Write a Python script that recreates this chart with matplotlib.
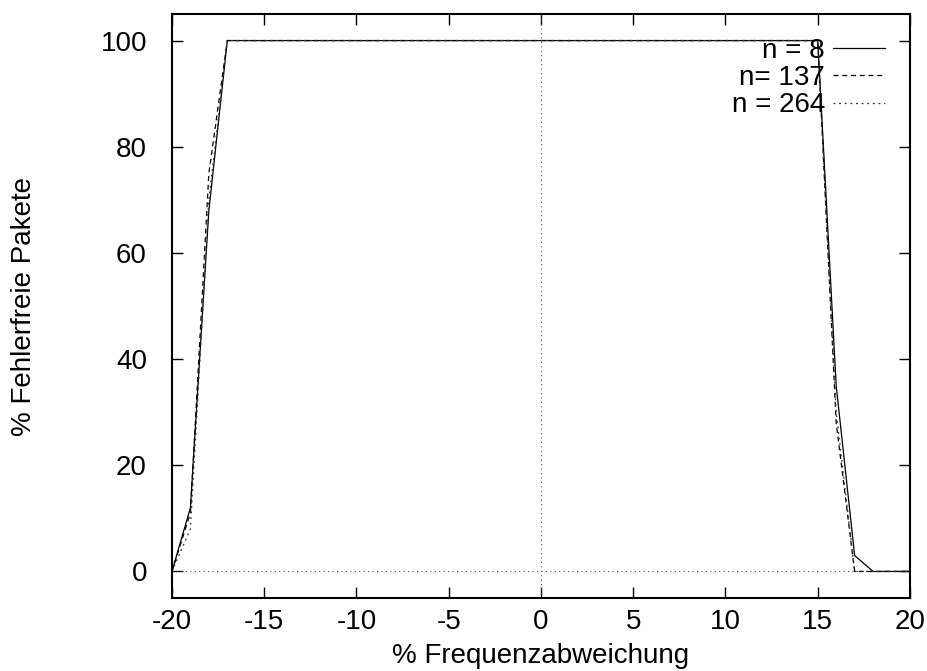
import matplotlib
matplotlib.use("Agg")
import matplotlib.pyplot as plt
import numpy as np

plt.rcParams['font.family'] = ['Liberation Sans', 'DejaVu Sans']
plt.rcParams['axes.unicode_minus'] = False

# Frequenzabweichung in %
freq = list(range(-20, 21))

# Fehlerfreie Pakete in %
n8 = [0, 12, 68] + [100] * 33 + [35, 3, 0, 0, 0]
n137 = [0, 11, 75] + [100] * 33 + [28, 0, 0, 0, 0]
n264 = [0, 8, 70] + [100] * 33 + [30, 0, 0, 0, 0]

labels = ["n = 8", "n= 137", "n = 264"]

fig = plt.figure(figsize=(9.28, 6.71), dpi=100)
ax = fig.add_axes([0.1853, 0.1088, 0.7953, 0.8703])

# Nullachsen (gnuplot zeroaxis)
ax.axhline(0, color="#555555", linestyle=(0, (1, 3)), linewidth=0.8)
ax.axvline(0, color="#555555", linestyle=(0, (1, 3)), linewidth=0.8)

ax.plot(freq, n8, color="black", linewidth=0.9, label=labels[0])
ax.plot(freq, n137, color="black", linewidth=0.9, linestyle=(0, (4, 3)), label=labels[1])
ax.plot(freq, n264, color="#333333", linewidth=0.9, linestyle=(0, (1.5, 3)), label=labels[2])

ax.set_xlim(-20, 20)
ax.set_ylim(-5, 105)
ax.set_xticks(np.arange(-20, 21, 5))
ax.set_yticks(np.arange(0, 101, 20))
ax.tick_params(direction="in", length=8, width=1, top=True, right=True, labelsize=20)
ax.tick_params(axis="x", pad=8)
ax.tick_params(axis="y", pad=18)
for s in ax.spines.values():
    s.set_linewidth(1.5)

ax.set_xlabel("% Frequenzabweichung", fontsize=20, labelpad=6)
ax.set_ylabel("% Fehlerfreie Pakete", fontsize=20, labelpad=46)

ax.legend(loc="upper right", frameon=False, markerfirst=False, fontsize=20,
          handlelength=1.87, handletextpad=0.3, labelspacing=0.05,
          borderaxespad=0.3, bbox_to_anchor=(0.993, 0.993))

fig.savefig("out.png", dpi=100)
